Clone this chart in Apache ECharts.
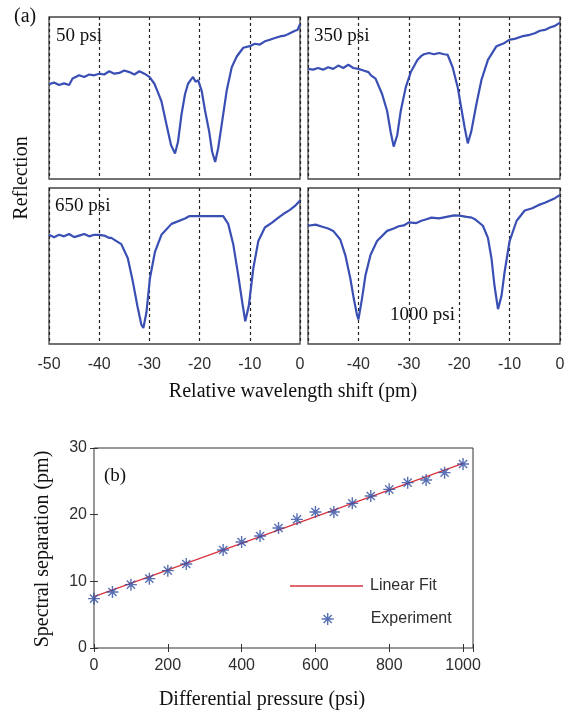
<!DOCTYPE html>
<html>
<head>
<meta charset="utf-8">
<script src="https://cdn.jsdelivr.net/npm/echarts@6/dist/echarts.min.js"></script>
<style>html,body{margin:0;padding:0;background:#fff;}#c{width:570px;height:715px;}</style>
</head>
<body>
<div id="c"></div>
<script>
// ---- Panel (a): reflection spectra (relative units, 0 = panel bottom, 100 = panel top)
const specLabels = ['50 psi', '350 psi', '650 psi', '1000 psi'];
const x50 = [-50,-49,-48,-47,-46,-45.3,-45,-44,-43,-42,-41,-40,-39,-38,-37,-36,-35,-34,-33,-32,-31,-30,-29,-28.5,-27.6,-26.6,-25.7,-24.9,-24.3,-23.6,-22.9,-22.3,-21.8,-21.3,-20.8,-20.3,-19.6,-18.9,-18.1,-17.5,-16.9,-16.3,-15.6,-14.6,-13.6,-12.6,-11.3,-10,-9,-8,-7,-6,-5,-4,-3,-2,-1,-0.5,0];
const y50 = [58.5,59.5,58,59,58,62,62.5,64,63,64.5,64,65,64.5,66.5,65,65.5,67,66,64.5,66.5,65,63,58.8,55,48,33.6,21,15.8,23,40,52.5,58.8,61,63,60,61,54.6,42,29.4,16.8,10.5,19,33.6,54.6,69,75.6,81,82,83.5,83,85,86,87,88,88.5,90,91.5,92,95.5];
const x350 = [-50,-49,-48,-47,-46,-45,-44,-43,-42,-41,-40,-39,-38,-37.5,-36.6,-35.3,-34.3,-33.6,-33,-32.3,-31.6,-30.6,-29.6,-28.3,-27.5,-27,-26,-25,-24,-23,-22.3,-21.3,-20.3,-19.6,-18.9,-18.3,-17.6,-16.6,-15.6,-14.3,-12.6,-11,-10,-9,-7.6,-6,-5,-4,-3,-2,-1,0];
const y350 = [68,67.5,68.5,67.5,69,68,70,68.5,70.5,68.5,68,67,66,64,62,52.5,42,29,20,27,42,56.7,66,73.5,76,77,77.8,77,77.8,77,76.7,69,56.7,44,31.5,22,29.4,46,61,73.5,82,84,86,86.5,88,89,90,91.5,92,93.5,94.5,96.5];
const x650 = [-50,-49,-48,-47,-46,-45,-44,-43,-42,-41,-40,-39,-38,-37.6,-35.6,-34.3,-33.3,-32.4,-31.6,-31.2,-30.6,-29.9,-28.9,-27.6,-25.6,-22.9,-22,-20.3,-19,-17,-15.3,-14.3,-13.3,-12.3,-11.5,-10.9,-10.2,-9.3,-8.3,-7,-5.5,-4.3,-3,-2,-1,0];
const y650 = [70,68.5,70,69,70.5,68.5,69.5,70.5,69,70,70,69.5,68,68,64,55,40,24.5,12.4,10.3,20,42,59,70,77,80.5,82,82,82,82,82,77,64,44,26.6,14.6,24.5,48.5,66,74.7,78,81,84,86,88.5,92];
const x1000 = [-50,-48.5,-47,-46,-45,-43.6,-42.6,-41.6,-40.9,-40.3,-40,-39.3,-38.6,-37.6,-36.3,-34.3,-33,-32,-31,-30,-28.5,-27.5,-26.5,-25.5,-24,-22.5,-21,-20,-18.5,-17.5,-16.9,-15.3,-14.3,-13.6,-13,-12.3,-11.6,-11,-10,-8.6,-7,-5.5,-4.3,-3,-2,-1,0];
const y1000 = [75.8,76.5,75,74,72.5,67,57,42,28.8,19,15.7,28.8,44,57,66,72.5,74,75.5,76,78,77.5,79,80,81,80.5,81.5,82.5,82.3,81.5,81,80,75.8,68,55,37.5,22.3,31,46,66,79,85.6,87,89,90.5,92,93.5,95.6];
const shiftTicks = [-50, -40, -30, -20, -10, 0];

// ---- Panel (b): spectral separation vs differential pressure
const pressure = [0,50,100,150,200,250,350,400,450,500,550,600,650,700,750,800,850,900,950,1000];
const separation = [7.4,8.4,9.5,10.4,11.6,12.6,14.7,15.9,16.8,18.0,19.3,20.4,20.4,21.7,22.8,23.8,24.8,25.2,26.3,27.6];
const fitX = [0, 1000];
const fitY = [7.7, 27.7];
const pressureTicks = [0, 200, 400, 600, 800, 1000];
const separationTicks = [0, 10, 20, 30];

const serif = 'Liberation Serif';
const sans = 'Liberation Sans';
const blue = '#3a4fb4';
const zip = (a, b) => a.map((v, i) => [v, b[i]]);

const panels = [
  {left: 49, top: 17, width: 251, height: 162, xs: x50, ys: y50, labels: false},
  {left: 308, top: 17, width: 252, height: 162, xs: x350, ys: y350, labels: false},
  {left: 49, top: 188, width: 251, height: 156, xs: x650, ys: y650, labels: 'all'},
  {left: 308, top: 188, width: 252, height: 156, xs: x1000, ys: y1000, labels: 'noFirst'}
];

const grid = [], xAxis = [], yAxis = [], series = [];
panels.forEach((p, i) => {
  grid.push({left: p.left, top: p.top, width: p.width, height: p.height, show: true,
    borderColor: '#444', borderWidth: 1.3, backgroundColor: '#fff'});
  xAxis.push({type: 'value', gridIndex: i, min: shiftTicks[0], max: shiftTicks[shiftTicks.length - 1], interval: 10,
    axisLine: {show: false}, axisTick: {show: false},
    splitLine: {show: true, lineStyle: {color: '#222', width: 1.2, type: [3, 3]}},
    axisLabel: {show: !!p.labels, margin: 13, fontFamily: sans, fontSize: 16, color: '#2e2e2e',
      formatter: v => (p.labels === 'noFirst' && v === -50) ? '' : String(v)}});
  yAxis.push({type: 'value', gridIndex: i, min: 0, max: 100,
    axisLine: {show: false}, axisTick: {show: false}, axisLabel: {show: false}, splitLine: {show: false}});
  series.push({type: 'line', xAxisIndex: i, yAxisIndex: i, data: zip(p.xs, p.ys), symbol: 'none',
    lineStyle: {color: blue, width: 2.2}, z: 3, silent: true});
});

// bottom chart
grid.push({left: 94, top: 448, right: 97, bottom: 67, show: true, borderColor: '#333', borderWidth: 1});
const gi = 4;
xAxis.push({type: 'value', gridIndex: gi, min: 0, max: 1027, interval: 200, position: 'bottom',
  axisLine: {show: false}, axisTick: {show: true, inside: true, length: 4, lineStyle: {color: '#333'}},
  splitLine: {show: false},
  axisLabel: {margin: 10, fontFamily: sans, fontSize: 16, color: '#2e2e2e',
    formatter: v => pressureTicks.includes(v) ? String(v) : ''}});
xAxis.push({type: 'value', gridIndex: gi, min: 0, max: 1027, interval: 200, position: 'top',
  axisLine: {show: false}, axisTick: {show: true, inside: true, length: 4, lineStyle: {color: '#333'}},
  splitLine: {show: false}, axisLabel: {show: false}});
yAxis.push({type: 'value', gridIndex: gi, min: separationTicks[0], max: separationTicks[separationTicks.length - 1], interval: 10, position: 'left',
  axisLine: {show: false}, axisTick: {show: true, inside: true, length: 4, lineStyle: {color: '#333'}},
  splitLine: {show: false},
  axisLabel: {margin: 7, fontFamily: sans, fontSize: 16, color: '#2e2e2e'}});
yAxis.push({type: 'value', gridIndex: gi, min: 0, max: 30, interval: 10, position: 'right',
  axisLine: {show: false}, axisTick: {show: true, inside: true, length: 4, lineStyle: {color: '#333'}},
  splitLine: {show: false}, axisLabel: {show: false}});

series.push({name: 'Linear Fit', type: 'line', xAxisIndex: 4, yAxisIndex: 4, data: zip(fitX, fitY),
  symbol: 'none', lineStyle: {color: '#d8333d', width: 1.2}, itemStyle: {color: '#d8333d'}, z: 3});
const asterisk = 'path://M5,0L5,10M0,5L10,5M1.6,1.6L8.4,8.4M1.6,8.4L8.4,1.6';
series.push({name: 'Experiment', type: 'scatter', xAxisIndex: 4, yAxisIndex: 4, data: zip(pressure, separation),
  symbol: asterisk, symbolSize: 12,
  itemStyle: {color: 'rgba(0,0,0,0)', borderColor: '#2f4ca3', borderWidth: 1.4}, z: 4});

const txt = (x, y, text, size, font) => ({type: 'text', x: x, y: y,
  style: {text: text, fontSize: size, fontFamily: font, fill: '#111'}});

const option = {
  animation: false,
  backgroundColor: '#fff',
  grid: grid, xAxis: xAxis, yAxis: yAxis, series: series,
  legend: [
    {data: [{name: 'Linear Fit', icon: 'rect'}], left: 285, top: 573, itemWidth: 73, itemHeight: 1.5, itemGap: 0,
      textStyle: {fontFamily: sans, fontSize: 16, color: '#2e2e2e', padding: [0, 0, 0, 2]}},
    {data: [{name: 'Experiment', icon: asterisk}], left: 316, top: 606, itemWidth: 12, itemHeight: 12, itemGap: 0,
      itemStyle: {color: 'rgba(0,0,0,0)', borderColor: '#2f4ca3', borderWidth: 1.4},
      textStyle: {fontFamily: sans, fontSize: 16, color: '#2e2e2e', padding: [0, 0, 0, 32]}}
  ],
  graphic: [
    txt(14, 7, '(a)', 20, serif),
    txt(56, 27, specLabels[0], 19, serif),
    txt(314, 27, specLabels[1], 19, serif),
    txt(55, 197, specLabels[2], 19, serif),
    txt(390, 306, specLabels[3], 19, serif),
    {type: 'text', x: 293, y: 392,
      style: {text: 'Relative wavelength shift (pm)', fontSize: 20, fontFamily: serif, fill: '#111', align: 'center', verticalAlign: 'middle'}},
    {type: 'text', x: 22, y: 178, rotation: Math.PI / 2,
      style: {text: 'Reflection', fontSize: 20, fontFamily: serif, fill: '#111', align: 'center', verticalAlign: 'middle'}},
    txt(104, 467, '(b)', 19, serif),
    {type: 'text', x: 43, y: 549, rotation: Math.PI / 2,
      style: {text: 'Spectral separation (pm)', fontSize: 20, fontFamily: serif, fill: '#111', align: 'center', verticalAlign: 'middle'}},
    {type: 'text', x: 262, y: 700,
      style: {text: 'Differential pressure (psi)', fontSize: 20, fontFamily: serif, fill: '#111', align: 'center', verticalAlign: 'middle'}}
  ]
};
const chart = echarts.init(document.getElementById('c'), null, {renderer: 'canvas'});
chart.setOption(option);
</script>
</body>
</html>
